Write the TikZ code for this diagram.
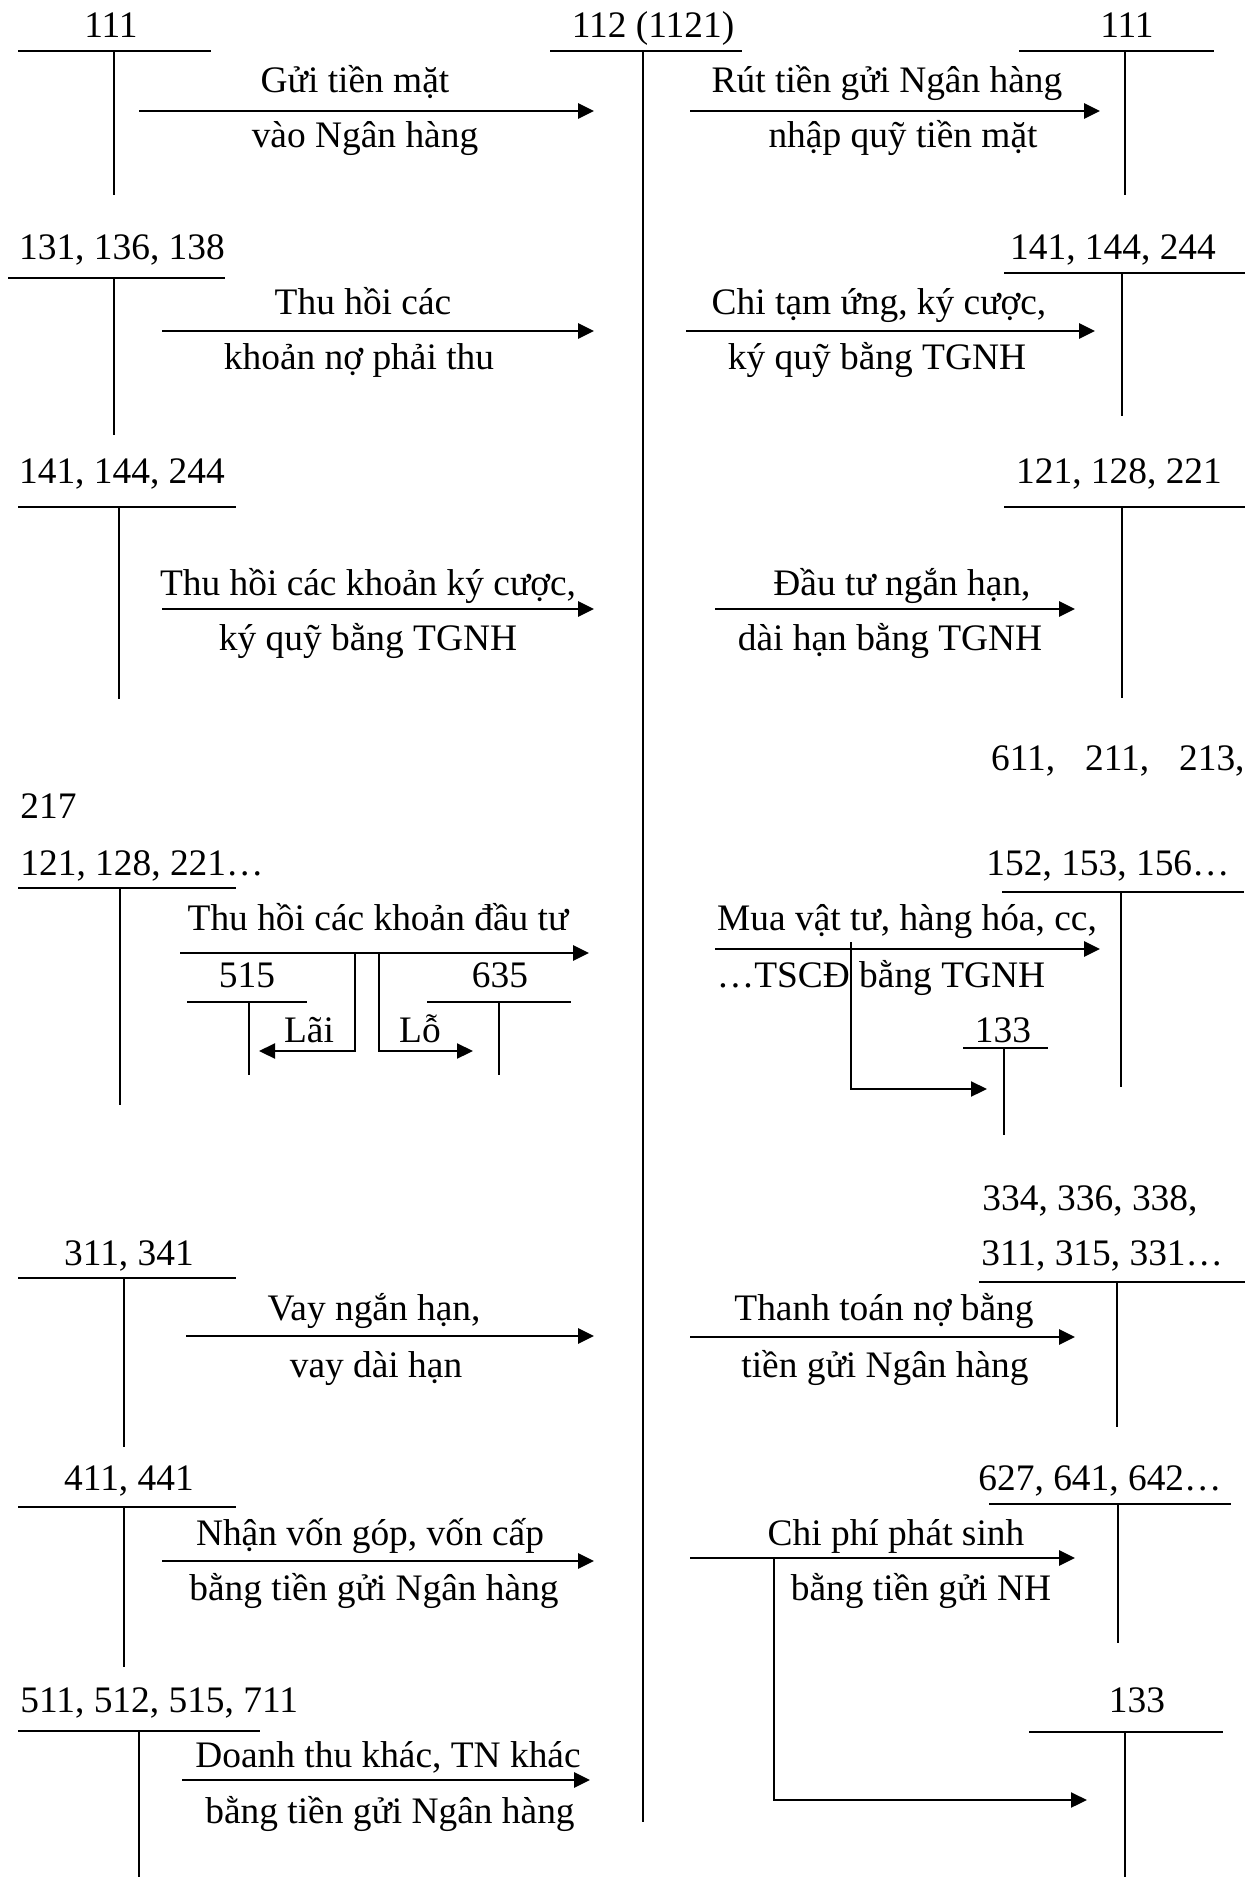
\documentclass[tikz,border=0pt]{standalone}
\usepackage{fontspec}
\setmainfont{Liberation Serif}
\usetikzlibrary{arrows.meta}
\tikzset{
  lbl/.style={inner sep=0pt, anchor=base, font=\fontsize{18.7pt}{22pt}\selectfont},
  tline/.style={line width=0.75pt},
  flow/.style={line width=1.4pt, -{Triangle[length=8pt,width=7.5pt]}},
  branch/.style={line width=1.1pt, -{Triangle[length=8pt,width=7.5pt]}},
}
\begin{document}
\begin{tikzpicture}[x=0.5pt, y=-0.5pt]
	\useasboundingbox (0,0) rectangle (1258,1877);
	% tai khoan chinh 112
	\node[lbl] (tk112) at (653,38) {112 (1121)};
	\draw[tline] (550,51) -- (742,51) (643,51) -- (643,1822);
	% 111 -> 112
	\node[lbl] (tk111a) at (111,38) {111};
	\draw[tline] (18,51) -- (211,51) (114,51) -- (114,195);
	\coordinate (g1s) at (139,111); \coordinate (g1e) at (594,111);
	\draw[flow] (g1s) -- (g1e);
	\node[lbl] (g1a) at (355,93) {Gửi tiền mặt};
	\node[lbl] (g1b) at (365,148) {vào Ngân hàng};
	% 112 -> 111
	\node[lbl] (tk111b) at (1127,38) {111};
	\draw[tline] (1019,51) -- (1214,51) (1125,51) -- (1125,195);
	\coordinate (r1s) at (690,111); \coordinate (r1e) at (1100,111);
	\draw[flow] (r1s) -- (r1e);
	\node[lbl] (r1a) at (887,93) {Rút tiền gửi Ngân hàng};
	\node[lbl] (r1b) at (903,148) {nhập quỹ tiền mặt};
	% 131, 136, 138
	\node[lbl] (tk131) at (122,260) {131, 136, 138};
	\draw[tline] (8,278) -- (225,278) (114,278) -- (114,435);
	\coordinate (g2s) at (162,331); \coordinate (g2e) at (594,331);
	\draw[flow] (g2s) -- (g2e);
	\node[lbl] (g2a) at (363,315) {Thu hồi các};
	\node[lbl] (g2b) at (359,370) {khoản nợ phải thu};
	% 141, 144, 244 (no)
	\node[lbl] (tk141b) at (1113,260) {141, 144, 244};
	\draw[tline] (1004,273) -- (1245,273) (1122,273) -- (1122,416);
	\coordinate (r2s) at (686,331); \coordinate (r2e) at (1095,331);
	\draw[flow] (r2s) -- (r2e);
	\node[lbl] (r2a) at (879,315) {Chi tạm ứng, ký cược,};
	\node[lbl] (r2b) at (877,370) {ký quỹ bằng TGNH};
	% 141, 144, 244 (co)
	\node[lbl] (tk141a) at (122,483) {141, 144, 244};
	\draw[tline] (18,507) -- (236,507) (119,507) -- (119,699);
	\coordinate (g3s) at (162,609); \coordinate (g3e) at (594,609);
	\draw[flow] (g3s) -- (g3e);
	\node[lbl] (g3a) at (368,595) {Thu hồi các khoản ký cược,};
	\node[lbl] (g3b) at (368,650) {ký quỹ bằng TGNH};
	% 121, 128, 221
	\node[lbl] (tk121b) at (1119,483) {121, 128, 221};
	\draw[tline] (1004,507) -- (1245,507) (1122,507) -- (1122,698);
	\coordinate (r3s) at (715,609); \coordinate (r3e) at (1075,609);
	\draw[flow] (r3s) -- (r3e);
	\node[lbl] (r3a) at (902,595) {Đầu tư ngắn hạn,};
	\node[lbl] (r3b) at (890,650) {dài hạn bằng TGNH};
	% 611, 211, 213, 217
	\node[lbl, anchor=base east] (tk611) at (1245,770) {611,\hspace{0.8em}211,\hspace{0.8em}213,};
	\node[lbl, anchor=base west] (tk217) at (20,818) {217};
	% thu hoi dau tu
	\node[lbl, anchor=base west] (tk121a) at (20,875) {121, 128, 221…};
	\draw[tline] (18,888) -- (236,888) (120,888) -- (120,1105);
	\coordinate (g4s) at (180,953); \coordinate (g4e) at (589,953);
	\draw[flow] (g4s) -- (g4e);
	\node[lbl] (g4a) at (378,930) {Thu hồi các khoản đầu tư};
	\node[lbl] (tk515) at (247,987) {515};
	\draw[tline] (187,1002) -- (307,1002) (249,1002) -- (249,1075);
	\node[lbl] (tk635) at (500,987) {635};
	\draw[tline] (427,1002) -- (571,1002) (499,1002) -- (499,1075);
	\coordinate (lai0) at (355,953); \coordinate (lai1) at (259,1051);
	\draw[branch] (lai0) |- (lai1);
	\node[lbl] (lai) at (309,1042) {Lãi};
	\coordinate (lo0) at (379,953); \coordinate (lo1) at (473,1051);
	\draw[branch] (lo0) |- (lo1);
	\node[lbl] (lo) at (420,1042) {Lỗ};
	% mua vat tu
	\node[lbl] (tk152) at (1108,875) {152, 153, 156…};
	\draw[tline] (1002,892) -- (1244,892) (1121,892) -- (1121,1087);
	\coordinate (r4s) at (715,949); \coordinate (r4e) at (1100,949);
	\draw[flow] (r4s) -- (r4e);
	\node[lbl] (r4a) at (907,930) {Mua vật tư, hàng hóa, cc,};
	\node[lbl] (r4b) at (881,987) {…TSCĐ bằng TGNH};
	\node[lbl] (tk133a) at (1003,1042) {133};
	\draw[tline] (963,1048) -- (1048,1048) (1004,1048) -- (1004,1135);
	\coordinate (v0) at (851,942); \coordinate (v1) at (987,1089);
	\draw[branch] (v0) |- (v1);
	% vay
	\node[lbl] (tk311) at (129,1265) {311, 341};
	\draw[tline] (18,1278) -- (236,1278) (124,1278) -- (124,1447);
	\coordinate (g5s) at (186,1336); \coordinate (g5e) at (594,1336);
	\draw[flow] (g5s) -- (g5e);
	\node[lbl] (g5a) at (374,1320) {Vay ngắn hạn,};
	\node[lbl] (g5b) at (376,1377) {vay dài hạn};
	% thanh toan no
	\node[lbl, anchor=base west] (tk334a) at (982,1210) {334, 336, 338,};
	\node[lbl, anchor=base west] (tk334b) at (981,1265) {311, 315, 331…};
	\draw[tline] (979,1282) -- (1245,1282) (1117,1282) -- (1117,1427);
	\coordinate (r5s) at (690,1337); \coordinate (r5e) at (1075,1337);
	\draw[flow] (r5s) -- (r5e);
	\node[lbl] (r5a) at (884,1320) {Thanh toán nợ bằng};
	\node[lbl] (r5b) at (885,1377) {tiền gửi Ngân hàng};
	% von gop
	\node[lbl] (tk411) at (129,1490) {411, 441};
	\draw[tline] (18,1507) -- (236,1507) (124,1507) -- (124,1667);
	\coordinate (g6s) at (162,1561); \coordinate (g6e) at (594,1561);
	\draw[flow] (g6s) -- (g6e);
	\node[lbl] (g6a) at (370,1545) {Nhận vốn góp, vốn cấp};
	\node[lbl] (g6b) at (374,1600) {bằng tiền gửi Ngân hàng};
	% chi phi
	\node[lbl] (tk627) at (1100,1490) {627, 641, 642…};
	\draw[tline] (989,1504) -- (1231,1504) (1118,1504) -- (1118,1643);
	\coordinate (r6s) at (690,1558); \coordinate (r6e) at (1075,1558);
	\draw[flow] (r6s) -- (r6e);
	\node[lbl] (r6a) at (896,1545) {Chi phí phát sinh};
	\node[lbl] (r6b) at (921,1600) {bằng tiền gửi NH};
	\node[lbl] (tk133b) at (1137,1712) {133};
	\draw[tline] (1029,1732) -- (1223,1732) (1125,1732) -- (1125,1877);
	\coordinate (c0) at (774,1558); \coordinate (c1) at (1087,1800);
	\draw[branch] (c0) |- (c1);
	% doanh thu
	\node[lbl, anchor=base west] (tk511) at (20,1712) {511, 512, 515, 711};
	\draw[tline] (18,1731) -- (260,1731) (139,1731) -- (139,1877);
	\coordinate (g7s) at (182,1780); \coordinate (g7e) at (590,1780);
	\draw[flow] (g7s) -- (g7e);
	\node[lbl] (g7a) at (388,1767) {Doanh thu khác, TN khác};
	\node[lbl] (g7b) at (390,1823) {bằng tiền gửi Ngân hàng};
\end{tikzpicture}
\end{document}
